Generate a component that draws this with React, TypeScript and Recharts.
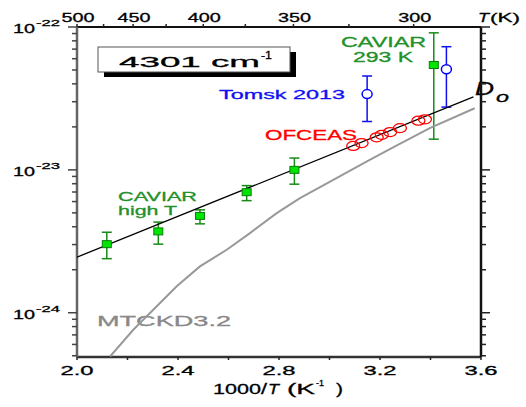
import React from "react";
import { ComposedChart, Scatter, XAxis, YAxis, ErrorBar, Customized } from "recharts";

const FONT = "'Liberation Sans', Arial, sans-serif";

// x = 1000/T (K^-1), y = continuum coefficient
const caviarHighX = [2.118, 2.322, 2.487, 2.672, 2.861];
const caviarHighY = [3.02e-24, 3.71e-24, 4.76e-24, 6.98e-24, 1.0e-23];
const caviarHighLo = [2.39e-24, 3.02e-24, 4.19e-24, 6.09e-24, 7.94e-24];
const caviarHighHi = [3.66e-24, 4.31e-24, 5.25e-24, 7.76e-24, 1.21e-23];

const caviarRoomX = [3.413];
const caviarRoomY = [5.42e-23];
const caviarRoomLo = [1.64e-23];
const caviarRoomHi = [9.1e-23];

const tomskX = [3.149, 3.463];
const tomskY = [3.39e-23, 5.06e-23];
const tomskLo = [2.18e-23, 2.75e-23];
const tomskHi = [4.54e-23, 7.28e-23];

const ofceasX = [3.094, 3.127, 3.187, 3.207, 3.24, 3.279, 3.352, 3.378];
const ofceasY = [1.47e-23, 1.54e-23, 1.69e-23, 1.76e-23, 1.84e-23, 1.96e-23, 2.21e-23, 2.26e-23];

const d0X = [2.0, 3.57];
const d0Y = [2.45e-24, 3.24e-23];

const mtckdX = [2.131, 2.223, 2.302, 2.395, 2.487, 2.593, 2.685, 2.791, 2.883, 3.015, 3.15, 3.25, 3.397, 3.575];
const mtckdY = [4.94e-25, 7.6e-25, 1.05e-24, 1.53e-24, 2.11e-24, 2.76e-24, 3.61e-24, 4.98e-24, 6.34e-24, 8.51e-24, 1.15e-23, 1.43e-23, 1.96e-23, 2.7e-23];

const xTicks = [2.0, 2.2, 2.4, 2.6, 2.8, 3.0, 3.2, 3.4, 3.6];
const xLabels = ["2.0", "2.4", "2.8", "3.2", "3.6"];
const tTicks = [500, 475, 450, 425, 400, 375, 350, 325, 300];
const tLabels = [500, 450, 400, 350, 300];
const yTicks = [
  5e-25, 6e-25, 7e-25, 8e-25, 9e-25,
  1e-24, 2e-24, 3e-24, 4e-24, 5e-24, 6e-24, 7e-24, 8e-24, 9e-24,
  1e-23, 2e-23, 3e-23, 4e-23, 5e-23, 6e-23, 7e-23, 8e-23, 9e-23,
  1e-22,
];
const Y_MIN = 4.9e-25;
const Y_MAX = 1e-22;

const withErr = (xs: number[], ys: number[], lo: number[], hi: number[]) =>
  xs.map((x, i) => ({ x, y: ys[i], err: [ys[i] - lo[i], hi[i] - ys[i]] }));
const pts = (xs: number[], ys: number[]) => xs.map((x, i) => ({ x, y: ys[i] }));

const caviarHigh = withErr(caviarHighX, caviarHighY, caviarHighLo, caviarHighHi);
const caviarRoom = withErr(caviarRoomX, caviarRoomY, caviarRoomLo, caviarRoomHi);
const tomsk = withErr(tomskX, tomskY, tomskLo, tomskHi);
const ofceas = pts(ofceasX, ofceasY);
const d0 = pts(d0X, d0Y);
const mtckd = pts(mtckdX, mtckdY);

function Txt(props: any) {
  const { x, y, w, size, fill = "#000", italic, anchor = "start", children } = props;
  return (
    <text
      x={x}
      y={y}
      fontSize={size}
      fill={fill}
      stroke={fill}
      strokeWidth={0.3}
      fontFamily={FONT}
      fontStyle={italic ? "italic" : "normal"}
      textAnchor={anchor}
      textLength={w}
      lengthAdjust="spacingAndGlyphs"
    >
      {children}
    </text>
  );
}

const isMajor = (v: number) => {
  const l = Math.log10(v);
  return Math.abs(l - Math.round(l)) < 1e-6;
};

function LeftTick(props: any) {
  const { x, y, payload } = props;
  const major = isMajor(payload.value);
  const exp = Math.round(Math.log10(payload.value));
  return (
    <g>
      <line x1={x - (major ? 9 : 5)} x2={x} y1={y} y2={y} stroke="#444" strokeWidth={1.5} />
      {major && (
        <>
          <Txt x={13} y={y + 6} w={22} size={12}>10</Txt>
          <Txt x={36} y={y - 1} w={24} size={9}>{String(exp)}</Txt>
        </>
      )}
    </g>
  );
}

function RightTick(props: any) {
  const { x, y, payload } = props;
  const major = isMajor(payload.value);
  return <line x1={x} x2={x + (major ? 9 : 5)} y1={y} y2={y} stroke="#222" strokeWidth={1.5} />;
}

function BottomTick(props: any) {
  const { x, y, payload } = props;
  const label = payload.value.toFixed(1);
  return (
    <g>
      <line x1={x} x2={x} y1={y} y2={y + 3} stroke="#222" strokeWidth={1.5} />
      {xLabels.includes(label) && (
        <Txt x={x} y={y + 18} w={33} size={12} anchor="middle">{label}</Txt>
      )}
    </g>
  );
}

function TopTick(props: any) {
  const { x, y, payload } = props;
  const t = Math.round(1000 / payload.value);
  return (
    <g>
      <line x1={x} x2={x} y1={y} y2={y - 3} stroke="#222" strokeWidth={1.5} />
      {tLabels.includes(t) && (
        <Txt x={x + 1} y={y - 5.5} w={33} size={12.5} anchor="middle">{String(t)}</Txt>
      )}
    </g>
  );
}

const Square = (p: any) => (
  <rect x={p.cx - 4.5} y={p.cy - 3.5} width={9} height={7} fill="#00e600" stroke="#0b7d0b" strokeWidth={1} />
);
const BlueCircle = (p: any) => (
  <ellipse cx={p.cx} cy={p.cy} rx={5} ry={4.5} fill="#fff" stroke="#0000ff" strokeWidth={1.5} />
);
const RedCircle = (p: any) => (
  <ellipse cx={p.cx} cy={p.cy} rx={6.5} ry={4.5} fill="none" stroke="#ff0000" strokeWidth={1.3} />
);
const Empty = () => <g />;

function Annotations() {
  return (
    <g>
      <rect x={104} y={52} width={192} height={25} fill="#000" />
      <rect x={98} y={47} width={192} height={25} fill="#fff" stroke="#555" strokeWidth={1} />
      <Txt x={119} y={66.5} w={141} size={15.5}>4301 cm</Txt>
      <Txt x={261} y={59} w={11} size={10}>-1</Txt>

      <Txt x={478} y={21.5} w={11} size={12.5} italic>T</Txt>
      <Txt x={490} y={21.5} w={30} size={12.5}>(K)</Txt>

      <Txt x={213} y={394} w={54} size={15}>1000/</Txt>
      <Txt x={268} y={394} w={11} size={15} italic>T</Txt>
      <Txt x={287} y={394} w={28} size={15}>(K</Txt>
      <Txt x={316} y={386} w={8} size={9}>-1</Txt>
      <Txt x={336} y={394} w={7} size={15}>)</Txt>

      <Txt x={341} y={46.5} w={85} size={14} fill="#23902a">CAVIAR</Txt>
      <Txt x={353} y={61.7} w={60} size={14} fill="#23902a">293 K</Txt>
      <Txt x={219} y={99.3} w={126} size={13} fill="#1010f0">Tomsk 2013</Txt>
      <Txt x={265} y={140} w={92} size={14} fill="#ff0000">OFCEAS</Txt>
      <Txt x={118} y={201} w={79} size={13} fill="#23902a">CAVIAR</Txt>
      <Txt x={118} y={215} w={59} size={13} fill="#23902a">high T</Txt>
      <Txt x={97} y={326} w={134} size={15} fill="#888">MTCKD3.2</Txt>
      <Txt x={475} y={95} w={19} size={18} italic>D</Txt>
      <Txt x={496} y={101.5} w={13} size={14} italic>o</Txt>
    </g>
  );
}

export default function App() {
  return (
    <div style={{ position: "fixed", left: 0, top: 0, background: "#fff" }}>
      <ComposedChart width={526} height={407} margin={{ top: 7, right: 15, bottom: 20, left: 17 }}>
        <XAxis
          xAxisId="b"
          type="number"
          dataKey="x"
          domain={[2, 3.6]}
          allowDataOverflow
          ticks={xTicks}
          interval={0}
          height={30}
          tickSize={0}
          tickMargin={0}
          tickLine={false}
          tick={<BottomTick />}
          axisLine={{ stroke: "#333", strokeWidth: 2.5 }}
        />
        <XAxis
          xAxisId="t"
          orientation="top"
          type="number"
          dataKey="x"
          domain={[2, 3.6]}
          allowDataOverflow
          ticks={tTicks.map((t) => 1000 / t)}
          interval={0}
          height={20}
          tickSize={0}
          tickMargin={0}
          tickLine={false}
          tick={<TopTick />}
          axisLine={{ stroke: "#111", strokeWidth: 2 }}
        />
        <YAxis
          yAxisId="l"
          type="number"
          dataKey="y"
          scale="log"
          domain={[Y_MIN, Y_MAX]}
          allowDataOverflow
          ticks={yTicks}
          interval={0}
          width={60}
          tickSize={0}
          tickMargin={0}
          tickLine={false}
          tick={<LeftTick />}
          axisLine={{ stroke: "#666", strokeWidth: 2.5 }}
        />
        <YAxis
          yAxisId="r"
          orientation="right"
          type="number"
          dataKey="y"
          scale="log"
          domain={[Y_MIN, Y_MAX]}
          allowDataOverflow
          ticks={yTicks}
          interval={0}
          width={30}
          tickSize={0}
          tickMargin={0}
          tickLine={false}
          tick={<RightTick />}
          axisLine={{ stroke: "#111", strokeWidth: 2.5 }}
        />

        <Scatter xAxisId="b" yAxisId="l" data={mtckd} line={{ stroke: "#999", strokeWidth: 2 }} lineType="joint" shape={<Empty />} isAnimationActive={false} />
        <Scatter xAxisId="b" yAxisId="l" data={d0} line={{ stroke: "#000", strokeWidth: 1.3 }} lineType="joint" shape={<Empty />} isAnimationActive={false} />
        <Scatter xAxisId="b" yAxisId="l" data={ofceas} shape={<RedCircle />} isAnimationActive={false} />
        <Scatter xAxisId="b" yAxisId="l" data={caviarHigh} shape={<Square />} isAnimationActive={false}>
          <ErrorBar dataKey="err" direction="y" width={5} stroke="#178a17" strokeWidth={1.5} isAnimationActive={false} />
        </Scatter>
        <Scatter xAxisId="b" yAxisId="l" data={caviarRoom} shape={<Square />} isAnimationActive={false}>
          <ErrorBar dataKey="err" direction="y" width={5} stroke="#178a17" strokeWidth={1.5} isAnimationActive={false} />
        </Scatter>
        <Scatter xAxisId="b" yAxisId="l" data={tomsk} shape={<BlueCircle />} isAnimationActive={false}>
          <ErrorBar dataKey="err" direction="y" width={5} stroke="#1010f0" strokeWidth={1.5} isAnimationActive={false} />
        </Scatter>
        <Customized component={Annotations} />
      </ComposedChart>
    </div>
  );
}
